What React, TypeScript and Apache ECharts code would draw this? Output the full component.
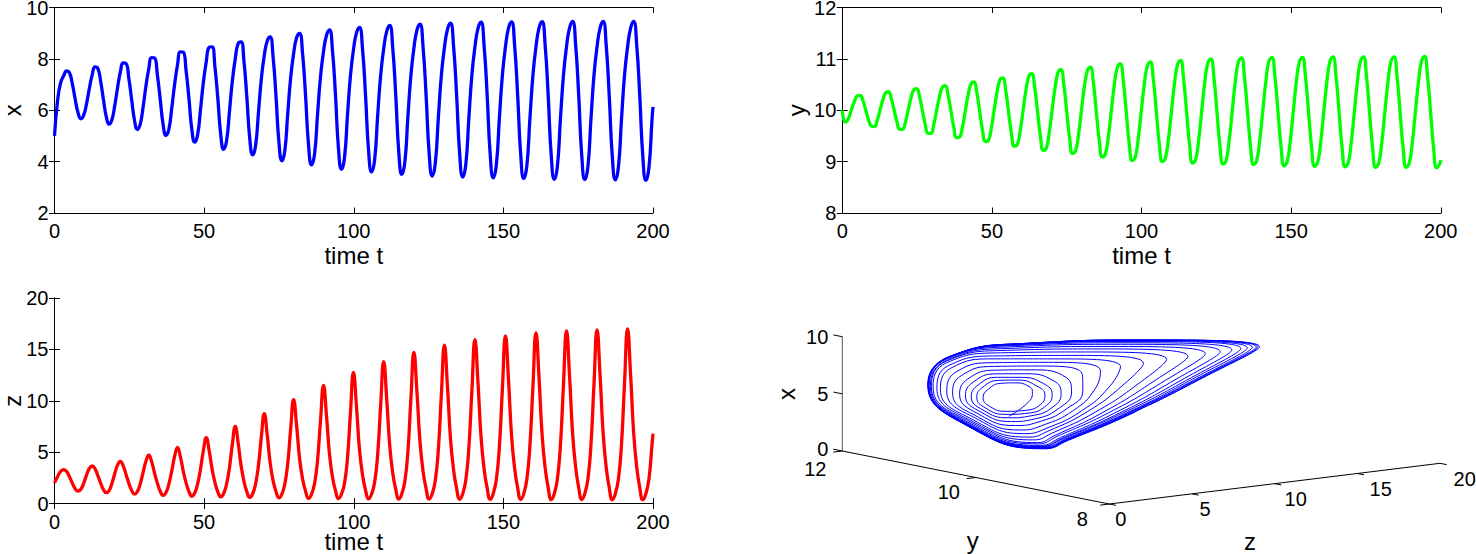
import React, { useEffect, useRef } from "react";
import * as echarts from "echarts";

// Samples: one row per oscillation of the trajectory.
const tValues = [
  0, 1, 2,
  3.1, 4.05, 5.0, 5.95, 6.9, 7.85, 8.8, 9.75, 10.7, 11.65,
  12.6, 13.54, 14.48, 15.42, 16.36, 17.3, 18.24, 19.18, 20.12, 21.06,
  22.0, 22.95, 23.9, 24.85, 25.8, 26.75, 27.7, 28.65, 29.6, 30.55,
  31.5, 32.46, 33.42, 34.38, 35.34, 36.3, 37.26, 38.22, 39.18, 40.14,
  41.1, 42.06, 43.02, 43.98, 44.94, 45.9, 46.86, 47.82, 48.78, 49.74,
  50.7, 51.67, 52.64, 53.61, 54.58, 55.55, 56.52, 57.49, 58.46, 59.43,
  60.4, 61.37, 62.34, 63.31, 64.28, 65.25, 66.22, 67.19, 68.16, 69.13,
  70.1, 71.08, 72.06, 73.04, 74.02, 75.0, 75.98, 76.96, 77.94, 78.92,
  79.9, 80.9, 81.9, 82.9, 83.9, 84.9, 85.9, 86.9, 87.9, 88.9,
  89.9, 90.9, 91.9, 92.9, 93.9, 94.9, 95.9, 96.9, 97.9, 98.9,
  99.9, 100.91, 101.92, 102.93, 103.94, 104.95, 105.96, 106.97, 107.98, 108.99,
  110.0, 111.01, 112.02, 113.03, 114.04, 115.05, 116.06, 117.07, 118.08, 119.09,
  120.1, 121.12, 122.14, 123.16, 124.18, 125.2, 126.22, 127.24, 128.26, 129.28,
  130.3, 131.32, 132.34, 133.36, 134.38, 135.4, 136.42, 137.44, 138.46, 139.48,
  140.5, 141.52, 142.54, 143.56, 144.58, 145.6, 146.62, 147.64, 148.66, 149.68,
  150.7, 151.72, 152.74, 153.76, 154.78, 155.8, 156.82, 157.84, 158.86, 159.88,
  160.9, 161.92, 162.94, 163.96, 164.98, 166.0, 167.02, 168.04, 169.06, 170.08,
  171.1, 172.12, 173.14, 174.16, 175.18, 176.2, 177.22, 178.24, 179.26, 180.28,
  181.3, 182.32, 183.34, 184.36, 185.38, 186.4, 187.42, 188.44, 189.46, 190.48,
  191.5, 192.52, 193.54, 194.56, 195.58, 196.6, 197.62, 198.64, 199.66, 200,
];

const xValues = [
  5.0, 6.35, 7.05,
  7.35, 7.53, 7.46, 7.04, 6.44, 5.91, 5.67, 5.81, 6.25, 6.85,
  7.38, 7.69, 7.63, 7.13, 6.41, 5.75, 5.46, 5.63, 6.17, 6.87,
  7.48, 7.84, 7.82, 7.23, 6.40, 5.60, 5.25, 5.46, 6.12, 6.93,
  7.61, 8.05, 8.04, 7.37, 6.42, 5.44, 5.02, 5.26, 6.08, 7.01,
  7.76, 8.27, 8.26, 7.53, 6.44, 5.25, 4.76, 5.04, 6.02, 7.08,
  7.88, 8.45, 8.47, 7.69, 6.46, 5.05, 4.48, 4.80, 5.95, 7.14,
  8.00, 8.60, 8.66, 7.90, 6.50, 4.90, 4.26, 4.62, 5.92, 7.23,
  8.13, 8.70, 8.86, 8.08, 6.54, 4.75, 4.03, 4.42, 5.87, 7.27,
  8.20, 8.82, 8.99, 8.20, 6.56, 4.63, 3.87, 4.29, 5.84, 7.32,
  8.29, 8.92, 9.13, 8.31, 6.58, 4.51, 3.70, 4.14, 5.80, 7.35,
  8.35, 9.01, 9.23, 8.38, 6.58, 4.44, 3.60, 4.06, 5.77, 7.36,
  8.39, 9.07, 9.30, 8.42, 6.57, 4.37, 3.50, 3.97, 5.72, 7.36,
  8.41, 9.12, 9.35, 8.46, 6.57, 4.33, 3.44, 3.92, 5.70, 7.37,
  8.44, 9.15, 9.39, 8.49, 6.57, 4.30, 3.40, 3.88, 5.69, 7.38,
  8.47, 9.19, 9.43, 8.51, 6.58, 4.28, 3.37, 3.86, 5.68, 7.38,
  8.47, 9.20, 9.44, 8.52, 6.57, 4.26, 3.34, 3.83, 5.66, 7.37,
  8.47, 9.21, 9.45, 8.53, 6.56, 4.23, 3.31, 3.80, 5.65, 7.37,
  8.48, 9.21, 9.46, 8.53, 6.56, 4.22, 3.30, 3.79, 5.64, 7.37,
  8.47, 9.21, 9.46, 8.53, 6.55, 4.21, 3.29, 3.78, 5.63, 7.36,
  8.46, 9.20, 9.46, 8.53, 6.55, 4.20, 3.27, 3.76, 5.62, 6.13,
];

const yValues = [
  10.0, 9.77, 9.83,
  10.02, 10.17, 10.28, 10.29, 10.19, 10.00, 9.81, 9.69, 9.68, 9.80,
  10.00, 10.20, 10.34, 10.36, 10.23, 10.01, 9.78, 9.63, 9.63, 9.76,
  10.00, 10.24, 10.40, 10.42, 10.27, 10.00, 9.73, 9.55, 9.55, 9.72,
  9.99, 10.26, 10.45, 10.48, 10.30, 9.99, 9.67, 9.47, 9.48, 9.67,
  9.99, 10.30, 10.51, 10.55, 10.35, 9.98, 9.61, 9.39, 9.41, 9.63,
  9.99, 10.34, 10.59, 10.63, 10.40, 9.97, 9.55, 9.30, 9.33, 9.59,
  9.99, 10.39, 10.66, 10.71, 10.45, 9.97, 9.49, 9.22, 9.26, 9.55,
  10.00, 10.43, 10.73, 10.79, 10.50, 9.97, 9.45, 9.16, 9.21, 9.52,
  9.99, 10.46, 10.77, 10.84, 10.53, 9.96, 9.40, 9.09, 9.15, 9.49,
  9.99, 10.49, 10.83, 10.90, 10.57, 9.96, 9.34, 9.02, 9.09, 9.45,
  9.98, 10.50, 10.86, 10.94, 10.60, 9.97, 9.33, 9.00, 9.07, 9.44,
  9.98, 10.52, 10.89, 10.97, 10.61, 9.97, 9.32, 8.97, 9.04, 9.42,
  9.98, 10.54, 10.92, 11.00, 10.64, 9.97, 9.30, 8.95, 9.02, 9.41,
  9.98, 10.55, 10.94, 11.02, 10.65, 9.98, 9.30, 8.94, 9.02, 9.41,
  9.98, 10.55, 10.95, 11.03, 10.65, 9.97, 9.29, 8.92, 9.00, 9.39,
  9.97, 10.55, 10.94, 11.03, 10.65, 9.97, 9.28, 8.91, 8.99, 9.39,
  9.97, 10.55, 10.95, 11.04, 10.66, 9.97, 9.27, 8.90, 8.98, 9.38,
  9.96, 10.55, 10.95, 11.04, 10.65, 9.96, 9.26, 8.89, 8.97, 9.37,
  9.96, 10.54, 10.95, 11.04, 10.65, 9.96, 9.26, 8.89, 8.97, 9.37,
  9.96, 10.54, 10.95, 11.05, 10.65, 9.96, 9.25, 8.88, 8.96, 9.03,
];

// y as it reads off the 3-D panel, whose outline differs from what the y(t) panel gives.
const loopYValues = [
  10.0, 9.85, 9.92,
  10.02, 10.17, 10.27, 10.30, 10.25, 10.09, 9.89, 9.75, 9.71, 9.81,
  10.00, 10.20, 10.33, 10.38, 10.32, 10.11, 9.86, 9.70, 9.66, 9.78,
  10.00, 10.23, 10.38, 10.45, 10.38, 10.12, 9.80, 9.65, 9.59, 9.74,
  9.99, 10.26, 10.43, 10.53, 10.45, 10.12, 9.73, 9.59, 9.53, 9.70,
  9.99, 10.29, 10.49, 10.62, 10.53, 10.13, 9.66, 9.54, 9.47, 9.67,
  9.99, 10.33, 10.56, 10.73, 10.63, 10.14, 9.57, 9.48, 9.40, 9.64,
  9.99, 10.37, 10.63, 10.83, 10.72, 10.15, 9.49, 9.42, 9.34, 9.61,
  10.00, 10.42, 10.70, 10.93, 10.82, 10.18, 9.43, 9.39, 9.30, 9.59,
  9.99, 10.44, 10.75, 11.00, 10.88, 10.18, 9.36, 9.34, 9.25, 9.56,
  9.99, 10.47, 10.80, 11.08, 10.95, 10.18, 9.30, 9.30, 9.20, 9.53,
  9.98, 10.48, 10.83, 11.13, 10.99, 10.20, 9.29, 9.29, 9.18, 9.52,
  9.98, 10.50, 10.86, 11.16, 11.02, 10.21, 9.26, 9.26, 9.16, 9.51,
  9.98, 10.52, 10.89, 11.20, 11.05, 10.22, 9.25, 9.25, 9.14, 9.50,
  9.98, 10.53, 10.91, 11.22, 11.07, 10.23, 9.25, 9.25, 9.13, 9.49,
  9.98, 10.53, 10.91, 11.23, 11.08, 10.23, 9.23, 9.23, 9.11, 9.48,
  9.97, 10.53, 10.92, 11.23, 11.08, 10.22, 9.22, 9.22, 9.11, 9.47,
  9.97, 10.53, 10.92, 11.25, 11.09, 10.23, 9.22, 9.22, 9.10, 9.47,
  9.96, 10.53, 10.92, 11.25, 11.09, 10.22, 9.21, 9.21, 9.09, 9.46,
  9.96, 10.52, 10.92, 11.25, 11.09, 10.22, 9.21, 9.21, 9.09, 9.46,
  9.96, 10.52, 10.92, 11.25, 11.10, 10.21, 9.20, 9.20, 9.08, 9.15,
];

const zValues = [
  2.0, 2.6, 3.1,
  3.30, 3.11, 2.61, 1.98, 1.45, 1.20, 1.38, 1.97, 2.76, 3.41,
  3.65, 3.37, 2.72, 1.97, 1.35, 1.05, 1.26, 1.95, 2.89, 3.73,
  4.10, 3.67, 2.83, 1.96, 1.26, 0.92, 1.16, 1.93, 3.02, 4.11,
  4.70, 4.07, 2.98, 1.97, 1.19, 0.80, 1.07, 1.91, 3.17, 4.58,
  5.45, 4.56, 3.16, 2.01, 1.16, 0.72, 1.02, 1.90, 3.34, 5.14,
  6.40, 5.16, 3.38, 2.06, 1.14, 0.65, 0.97, 1.88, 3.49, 5.76,
  7.50, 5.89, 3.68, 2.17, 1.15, 0.60, 0.95, 1.90, 3.72, 6.50,
  8.75, 6.68, 3.98, 2.23, 1.17, 0.55, 0.92, 1.89, 3.91, 7.25,
  10.10, 7.59, 4.38, 2.38, 1.20, 0.50, 0.91, 1.93, 4.20, 8.10,
  11.50, 8.52, 4.78, 2.57, 1.25, 0.48, 0.91, 1.95, 4.41, 8.82,
  12.75, 9.43, 5.25, 2.79, 1.31, 0.45, 0.92, 2.05, 4.72, 9.53,
  13.80, 10.19, 5.64, 2.97, 1.37, 0.43, 0.93, 2.14, 5.00, 10.13,
  14.70, 10.84, 5.99, 3.13, 1.42, 0.42, 0.94, 2.22, 5.21, 10.61,
  15.40, 11.35, 6.26, 3.26, 1.46, 0.41, 0.95, 2.27, 5.38, 10.98,
  15.95, 11.75, 6.46, 3.35, 1.49, 0.40, 0.96, 2.31, 5.49, 11.21,
  16.30, 12.00, 6.59, 3.41, 1.50, 0.39, 0.96, 2.34, 5.58, 11.41,
  16.60, 12.22, 6.71, 3.46, 1.52, 0.38, 0.95, 2.35, 5.63, 11.55,
  16.80, 12.37, 6.78, 3.50, 1.53, 0.38, 0.96, 2.36, 5.67, 11.61,
  16.90, 12.44, 6.82, 3.51, 1.53, 0.37, 0.95, 2.37, 5.69, 11.68,
  17.00, 12.51, 6.86, 3.53, 1.53, 0.37, 0.95, 2.37, 5.69, 6.80,
];

const xBoxTicks = [0, 5, 10];
const yBoxTicks = [12, 10, 8];
const zBoxTicks = [0, 5, 10, 15, 20];
const timeLabel = "time t";

const FONT = "Liberation Sans";
const TICK = 20;
const LABEL = 24;

// The fixed view of the 3-D box, in page pixels.
const project = (y: number, z: number, x: number): number[] => [
  842.3 + ((12 - y) / 4) * 267 + (z / 20) * 330.7,
  451 + ((12 - y) / 4) * 53 - (z / 20) * 40.7 - (x / 10) * 114.3,
];

const seg = (a: number[], b: number[], color = "#000") => ({
  type: "line",
  xAxisIndex: 6,
  yAxisIndex: 6,
  data: [a, b],
  showSymbol: false,
  silent: true,
  clip: false,
  lineStyle: { color, width: 1 },
});

const panels = [
  { left: 54.5, top: 7.5, ymin: 2, ymax: 10, step: 2, name: "x", values: xValues, color: "#0000ff", xGap: 34, yGap: 35.5 },
  { left: 842.3, top: 7.5, ymin: 8, ymax: 12, step: 1, name: "y", values: yValues, color: "#00ff00", xGap: 34, yGap: 39 },
  { left: 54.5, top: 298, ymin: 0, ymax: 20, step: 5, name: "z", values: zValues, color: "#ff0000", xGap: 30, yGap: 35.5 },
];

function buildOption() {
  const grid: any[] = [];
  const xAxis: any[] = [];
  const yAxis: any[] = [];
  const series: any[] = [];
  const line = { show: true, lineStyle: { color: "#000", width: 1 } };
  const tick = { show: true, inside: true, length: 5.5, lineStyle: { color: "#000", width: 1 } };
  const label = { color: "#000", fontFamily: FONT, fontSize: TICK, lineHeight: 14 };
  panels.forEach((p, i) => {
    grid.push({ left: p.left, top: p.top, width: 598.5, height: 205.5, outerBoundsMode: "none" });
    const gridIndex = i;
    const xb = { type: "value", gridIndex, min: 0, max: 200, interval: 50, splitLine: { show: false }, axisLine: line, axisTick: tick };
    const yb = { type: "value", gridIndex, min: p.ymin, max: p.ymax, interval: p.step, splitLine: { show: false }, axisLine: line, axisTick: tick };
    xAxis.push(
      { ...xb, position: "bottom", axisLabel: { ...label, margin: 11 }, name: timeLabel, nameLocation: "middle", nameGap: p.xGap, nameMoveOverlap: false,
        nameTextStyle: { color: "#000", fontFamily: FONT, fontSize: LABEL, lineHeight: 16 } },
    );
    yAxis.push(
      { ...yb, position: "left", axisLabel: { ...label, margin: 6 }, name: p.name, nameLocation: "middle", nameGap: p.yGap, nameMoveOverlap: false,
        nameTextStyle: { color: "#000", fontFamily: FONT, fontSize: LABEL, lineHeight: 14 } },
    );
    series.push({
      type: "line",
      xAxisIndex: i,
      yAxisIndex: i,
      data: tValues.map((t, j) => [t, p.values[j]]),
      smooth: 0.5,
      showSymbol: false,
      silent: true,
      lineStyle: { color: p.color, width: 3.3 },
    });
  });
  panels.forEach((p, i) => {
    xAxis.push({ type: "value", gridIndex: i, min: 0, max: 200, interval: 50, position: "top", splitLine: { show: false }, axisLine: line, axisTick: tick, axisLabel: { show: false } });
    yAxis.push({ type: "value", gridIndex: i, min: p.ymin, max: p.ymax, interval: p.step, position: "right", splitLine: { show: false }, axisLine: line, axisTick: tick, axisLabel: { show: false } });
  });

  // The page-sized hidden scale that carries the projected 3-D panel.
  grid.push({ left: 0, top: 0, width: 1476, height: 554, outerBoundsMode: "none" });
  xAxis.push({ type: "value", gridIndex: 3, min: 0, max: 1476, show: false });
  yAxis.push({ type: "value", gridIndex: 3, min: 0, max: 554, inverse: true, show: false });

  series.push({
    type: "line",
    xAxisIndex: 6,
    yAxisIndex: 6,
    data: tValues.map((_, j) => project(loopYValues[j], zValues[j], xValues[j])),
    smooth: 0.5,
    showSymbol: false,
    silent: true,
    clip: false,
    lineStyle: { color: "#0000ff", width: 1 },
  });
  series.push(seg(project(12, 0, 0), project(12, 0, 10), "#555"));
  series.push(seg(project(12, 0, 0), project(8, 0, 0)));
  series.push(seg(project(8, 0, 0), project(8, 20, 0)));
  xBoxTicks.forEach((v) => series.push(seg(project(12, 0, v), project(12.135, 0, v))));
  yBoxTicks.forEach((v) => series.push(seg(project(v, 0, 0), project(v, -0.55, 0))));
  zBoxTicks.forEach((v) => series.push(seg(project(8, v, 0), project(7.9, v, 0))));

  const text = (s: string, x: number, y: number, size: number, align = "center", rotation = 0) => ({
    type: "text",
    x,
    y,
    rotation,
    silent: true,
    style: { text: s, fill: "#000", fontFamily: FONT, fontSize: size, align, verticalAlign: "middle", lineHeight: size === TICK ? 14 : size },
  });
  const zOffset = [11.4, 13, 21, 23.4, 24.7];
  const graphic: any[] = [
    ...xBoxTicks.map((v) => { const p = project(12, 0, v); return text(String(v), p[0] - 14, p[1] - (v === 0 ? 2.5 : 0), TICK, "right"); }),
    ...yBoxTicks.map((v) => { const p = project(v, 0, 0); return text(String(v), p[0] - 27, p[1] + 14.5 + (v === 12 ? 3 : 0), TICK); }),
    ...zBoxTicks.map((v, i) => { const p = project(8, v, 0); return text(String(v), p[0] + zOffset[i], p[1] + 15.4, TICK); }),
    text("x", 786, 394, LABEL, "center", Math.PI / 2),
    text("y", 972.7, 540, LABEL),
    text("z", 1250, 541, LABEL),
  ];

  return { animation: false, backgroundColor: "#fff", grid, xAxis, yAxis, series, graphic };
}

export default function App() {
  const ref = useRef<HTMLDivElement>(null);
  useEffect(() => {
    const chart = echarts.init(ref.current as HTMLDivElement, undefined, { renderer: "svg" });
    chart.setOption(buildOption() as any);
    return () => chart.dispose();
  }, []);
  return <div ref={ref} style={{ position: "absolute", left: 0, top: 0, width: 1476, height: 554 }} />;
}
